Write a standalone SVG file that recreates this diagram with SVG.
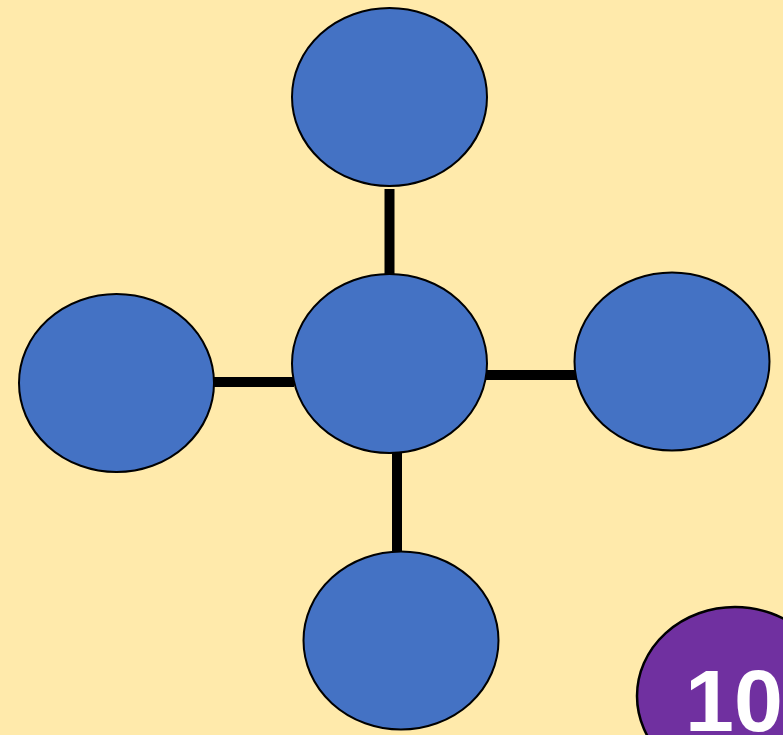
<svg xmlns="http://www.w3.org/2000/svg" width="783" height="735" viewBox="0 0 783 735">
<style>
.node{fill:#4472C4;stroke:#000;stroke-width:2}
.edge{stroke:#000;stroke-width:10;fill:none}
.badge{fill:#7030A0;stroke:#000;stroke-width:2.5}
.num{font-family:"Liberation Sans",Arial,sans-serif;font-weight:bold;font-size:88px;fill:#fff}
</style>
<rect x="0" y="0" width="783" height="735" fill="#FFEAAB"/>
<g id="connectors">
<line class="edge" x1="389.5" y1="189" x2="389.5" y2="276"/>
<line class="edge" x1="214" y1="382" x2="294" y2="382"/>
<line class="edge" x1="485" y1="375" x2="576" y2="375"/>
<line class="edge" x1="397" y1="451" x2="397" y2="552"/>
</g>
<g id="node-top"><ellipse class="node" cx="389.5" cy="97" rx="97.5" ry="89"/></g>
<g id="node-center"><ellipse class="node" cx="389.5" cy="363.5" rx="97.5" ry="89.5"/></g>
<g id="node-left"><ellipse class="node" cx="116.5" cy="383" rx="97.5" ry="89"/></g>
<g id="node-right"><ellipse class="node" cx="672" cy="361.5" rx="97.5" ry="89"/></g>
<g id="node-bottom"><ellipse class="node" cx="401" cy="640.5" rx="97.5" ry="89"/></g>
<g id="badge">
<ellipse class="badge" cx="735" cy="696" rx="98" ry="89"/>
<text class="num" x="685" y="731">10</text>
</g>
</svg>
